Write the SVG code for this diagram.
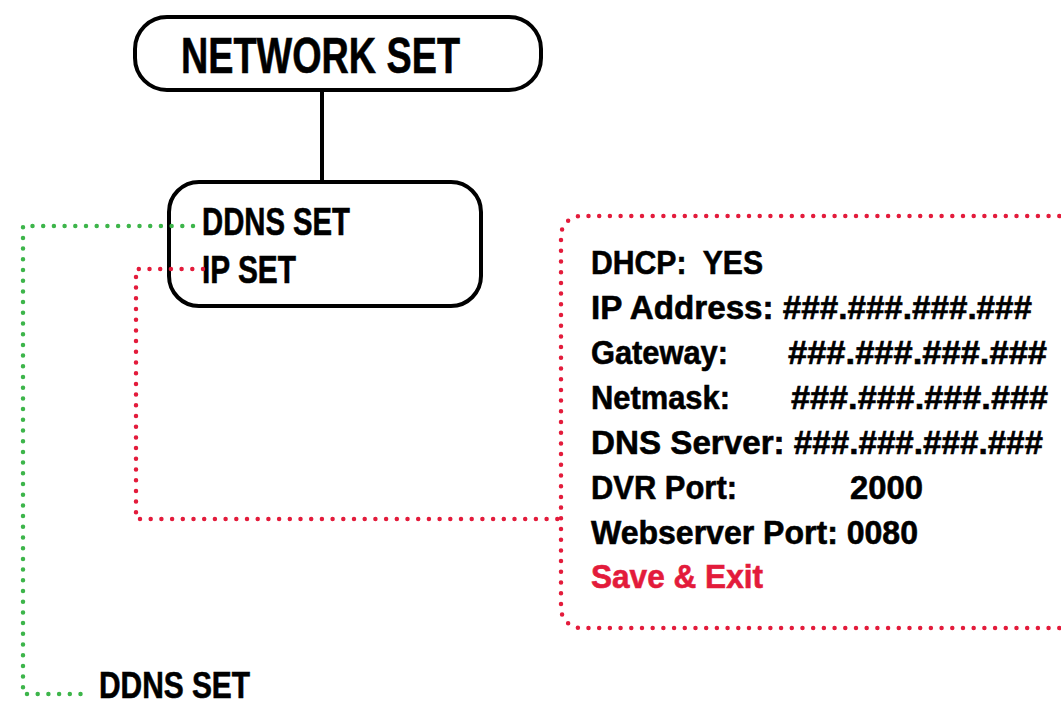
<svg xmlns="http://www.w3.org/2000/svg" width="1061" height="701" viewBox="0 0 1061 701">
<style>
text{font-family:"Liberation Sans",Arial,sans-serif;font-weight:bold;fill:#000;stroke:#000;stroke-width:0.6}
.box{fill:#fff;stroke:#000;stroke-width:4}
.dotr{fill:none;stroke:#E31B3B;stroke-width:4.5;stroke-linecap:round;stroke-dasharray:0 10.7}
.dotg{fill:none;stroke:#3DB54A;stroke-width:4.5;stroke-linecap:round;stroke-dasharray:0 10.7}
.t{font-size:34px}
.red{fill:#E31B3B;stroke:#E31B3B}
</style>
<rect width="1061" height="701" fill="#fff"/>
<g id="network-set">
<rect class="box" x="135" y="17" width="406" height="73" rx="32"/>
<text x="181" y="73" font-size="50" textLength="279" lengthAdjust="spacingAndGlyphs">NETWORK SET</text>
</g>
<g id="menu">
<rect class="box" x="169" y="182" width="312" height="124" rx="30"/>
<text x="202" y="235" font-size="38" textLength="148" lengthAdjust="spacingAndGlyphs">DDNS SET</text>
<text x="202" y="283" font-size="38" textLength="94" lengthAdjust="spacingAndGlyphs">IP SET</text>
</g>
<g id="ip-set-panel">
<path class="dotr" d="M1070 216 H581 A20 20 0 0 0 561 236 V608 A20 20 0 0 0 581 628 H1070"/>
<text class="t" x="591" y="274" textLength="172" lengthAdjust="spacingAndGlyphs" xml:space="preserve">DHCP:  YES</text>
<text class="t" x="591" y="319" textLength="441" lengthAdjust="spacingAndGlyphs">IP Address: ###.###.###.###</text>
<text class="t" x="591" y="364" textLength="137" lengthAdjust="spacingAndGlyphs">Gateway:</text>
<text class="t" x="788" y="364" textLength="259" lengthAdjust="spacingAndGlyphs">###.###.###.###</text>
<text class="t" x="591" y="409" textLength="139" lengthAdjust="spacingAndGlyphs">Netmask:</text>
<text class="t" x="791" y="409" textLength="257" lengthAdjust="spacingAndGlyphs">###.###.###.###</text>
<text class="t" x="591" y="454" textLength="452" lengthAdjust="spacingAndGlyphs">DNS Server: ###.###.###.###</text>
<text class="t" x="591" y="499" textLength="146" lengthAdjust="spacingAndGlyphs">DVR Port:</text>
<text class="t" x="850" y="499" textLength="73" lengthAdjust="spacingAndGlyphs">2000</text>
<text class="t" x="591" y="544" textLength="327" lengthAdjust="spacingAndGlyphs">Webserver Port: 0080</text>
<text class="t red" x="591" y="588" textLength="172" lengthAdjust="spacingAndGlyphs">Save &amp; Exit</text>
</g>
<g id="ddns-set">
<text x="99" y="698" font-size="37" textLength="151" lengthAdjust="spacingAndGlyphs">DDNS SET</text>
</g>
<g id="connectors">
<line x1="322" y1="91" x2="322" y2="181" stroke="#000" stroke-width="4"/>
<path class="dotg" d="M193 226 H23 V694 H88"/>
<path class="dotr" d="M203 269 H136 V519 H561"/>
</g>
</svg>
